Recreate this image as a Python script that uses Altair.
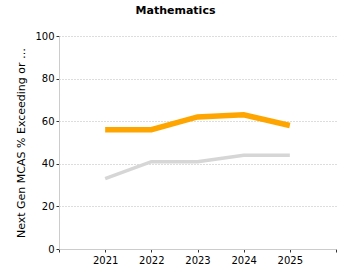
import altair as alt
import pandas as pd

years = [2021, 2022, 2023, 2024, 2025]
school = [56, 56, 62, 63, 58]
state = [33, 41, 41, 44, 44]
series_names = ["School", "State"]

rows = []
for y, v in zip(years, school):
    rows.append({"year": y, "value": v, "series": series_names[0]})
for y, v in zip(years, state):
    rows.append({"year": y, "value": v, "series": series_names[1]})
df = pd.DataFrame(rows)

font = "DejaVu Sans"

x = alt.X("year:Q", scale=alt.Scale(domain=[2020, 2026], nice=False, zero=False),
          axis=alt.Axis(values=[2020, 2021, 2022, 2023, 2024, 2025, 2026],
                        labelExpr="(datum.value == 2020 || datum.value == 2026) ? '' : datum.value",
                        format="d", title=None, grid=False, domainColor="#cccccc",
                        tickColor="#333333", tickSize=3, labelFont=font, labelFontSize=10,
                        labelColor="#000000", labelPadding=3))
y = alt.Y("value:Q", scale=alt.Scale(domain=[0, 100], nice=False),
          axis=alt.Axis(values=[0, 20, 40, 60, 80, 100], title="Next Gen MCAS % Exceeding or Meeting Expectations",
                        titleLimit=192, titleFont=font, titleFontSize=11, titleFontWeight="normal",
                        titleColor="#000000", titlePadding=8,
                        labelFont=font, labelFontSize=10, labelColor="#000000",
                        grid=True, gridDash=[1, 2], gridColor="#bbbbbb",
                        domainColor="#cccccc", tickColor="#333333", tickSize=3, labelPadding=2))

base = alt.Chart(df)
state_line = base.transform_filter(alt.datum.series == "State").mark_line(
    color="#d6d6d6", strokeWidth=3.5).encode(x=x, y=y)
school_line = base.transform_filter(alt.datum.series == "School").mark_line(
    color="#ffa500", strokeWidth=5.5).encode(x=x, y=y)

chart = alt.layer(state_line, school_line).properties(
    width=277, height=213,
    title=alt.TitleParams("Mathematics", font=font, fontSize=11, fontWeight="bold",
                          color="#000000", anchor="middle", dx=-22, offset=15),
    autosize=alt.AutoSizeParams(type="none"),
    padding={"left": 59, "top": 36, "right": 14, "bottom": 31},
).configure_view(stroke=None)

chart.save("out.html", embed_options={"renderer": "svg", "actions": False})
